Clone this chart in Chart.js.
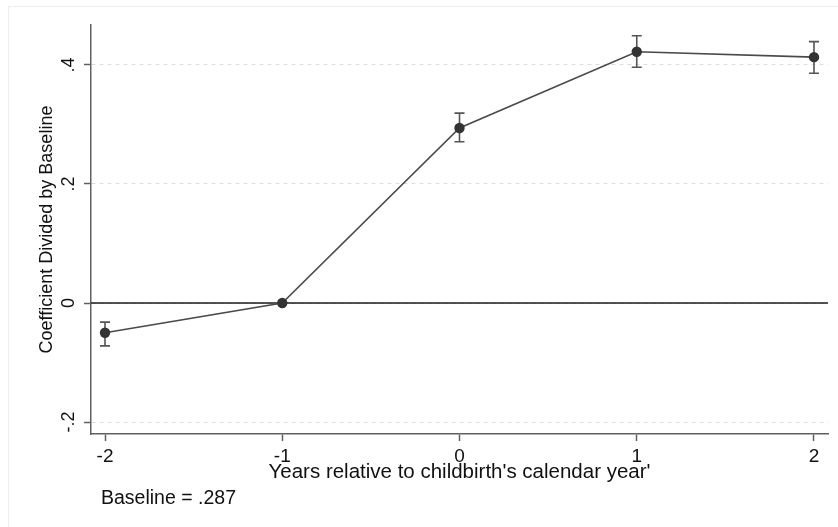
<!DOCTYPE html>
<html lang="en">
<head>
    <meta charset="UTF-8">
    <title>Coefficient Divided by Baseline</title>
    <style>
        body { margin: 0; background: #fff; }
        #wrap { width: 838px; height: 527px; }
    </style>
</head>
<body>
<div id="wrap">
    <canvas id="eventChart" width="838" height="527"></canvas>
</div>

<script src="https://cdn.jsdelivr.net/npm/chart.js"></script>
<script>
    // Event-study values
    const years = [-2, -1, 0, 1, 2];
    const coef = [-0.050, 0, 0.294, 0.422, 0.413];
    const ciLow = [-0.072, 0, 0.271, 0.396, 0.386];
    const ciHigh = [-0.032, 0, 0.319, 0.449, 0.439];
    const xTicks = [-2, -1, 0, 1, 2];
    const yTicks = [-0.2, 0, 0.2, 0.4];
    const baselineNote = 'Baseline = .287';

    const FONT = "'Liberation Sans', Arial, sans-serif";

    // Stata style labels: .4 instead of 0.4
    function stataNum(v) {
        const r = Math.round(v * 10) / 10;
        if (r === 0) return '0';
        return String(r).replace('0.', '.');
    }

    const stataExtras = {
        id: 'stataExtras',
        beforeDraw(chart) {
            const ctx = chart.ctx;
            // faint frame of the graph region
            ctx.save();
            ctx.strokeStyle = '#ededed';
            ctx.lineWidth = 1;
            ctx.strokeRect(8.5, 6.5, 840, 530);
            ctx.restore();
        },
        beforeDatasetsDraw(chart) {
            const ctx = chart.ctx;
            const x = chart.scales.x, y = chart.scales.y;
            const area = chart.chartArea;

            // zero reference line
            const y0 = y.getPixelForValue(0);
            ctx.save();
            ctx.strokeStyle = '#1a1a1a';
            ctx.lineWidth = 1.5;
            ctx.beginPath();
            ctx.moveTo(area.left, y0);
            ctx.lineTo(area.right, y0);
            ctx.stroke();

            // confidence intervals
            ctx.strokeStyle = '#555';
            ctx.lineWidth = 1.6;
            years.forEach((yr, i) => {
                if (ciLow[i] === ciHigh[i]) return;
                const px = x.getPixelForValue(yr);
                const top = y.getPixelForValue(ciHigh[i]);
                const bot = y.getPixelForValue(ciLow[i]);
                ctx.beginPath();
                ctx.moveTo(px, top); ctx.lineTo(px, bot);
                ctx.moveTo(px - 5, top); ctx.lineTo(px + 5, top);
                ctx.moveTo(px - 5, bot); ctx.lineTo(px + 5, bot);
                ctx.stroke();
            });
            ctx.restore();
        },
        afterDraw(chart) {
            const ctx = chart.ctx;
            const y = chart.scales.y;
            ctx.save();
            ctx.fillStyle = '#111';
            // rotated y tick labels
            ctx.font = '18px ' + FONT;
            ctx.textAlign = 'center';
            ctx.textBaseline = 'middle';
            yTicks.forEach(v => {
                const py = y.getPixelForValue(v);
                ctx.save();
                ctx.translate(69, py);
                ctx.rotate(-Math.PI / 2);
                ctx.fillText(stataNum(v), 0, 0);
                ctx.restore();
            });
            // note under the graph
            ctx.font = '19.5px ' + FONT;
            ctx.textAlign = 'left';
            ctx.fillText(baselineNote, 101, 499);
            ctx.restore();
        }
    };

    new Chart(document.getElementById('eventChart').getContext('2d'), {
        type: 'scatter',
        data: {
            datasets: [{
                label: 'Coefficient',
                data: years.map((yr, i) => ({ x: yr, y: coef[i] })),
                showLine: true,
                borderColor: '#4a4a4a',
                borderWidth: 1.6,
                pointRadius: 5.2,
                pointBackgroundColor: '#333',
                pointBorderColor: '#333',
                pointBorderWidth: 0
            }]
        },
        options: {
            responsive: false,
            devicePixelRatio: 1,
            animation: false,
            layout: { padding: { top: 25, right: 10, left: 0, bottom: 0 } },
            plugins: {
                legend: { display: false },
                tooltip: { enabled: false }
            },
            scales: {
                x: {
                    type: 'linear',
                    min: -2.079,
                    max: 2.079,
                    afterBuildTicks: s => { s.ticks = xTicks.map(v => ({ value: v })); },
                    afterFit: s => { s.height = 93; },
                    ticks: {
                        color: '#111',
                        font: { family: FONT, size: 19 },
                        padding: 4,
                        maxRotation: 0,
                        callback: v => String(v)
                    },
                    grid: {
                        drawOnChartArea: false,
                        drawTicks: true,
                        tickLength: 7,
                        tickColor: '#606060',
                        tickWidth: 1.5
                    },
                    border: { color: '#606060', width: 1.5 },
                    title: {
                        display: true,
                        text: "Years relative to childbirth's calendar year'",
                        color: '#111',
                        font: { family: FONT, size: 20.5 },
                        padding: { top: 0, bottom: 42 }
                    }
                },
                y: {
                    min: -0.22,
                    max: 0.467,
                    afterBuildTicks: s => { s.ticks = yTicks.map(v => ({ value: v })); },
                    afterFit: s => { s.width = 91; },
                    ticks: { display: false },
                    grid: {
                        color: '#dcdcdc',
                        lineWidth: 1,
                        drawTicks: true,
                        tickLength: 7,
                        tickColor: '#606060',
                        tickWidth: 1.5
                    },
                    border: { color: '#606060', width: 1.5, dash: [4, 4] },
                    title: {
                        display: true,
                        text: 'Coefficient Divided by Baseline',
                        color: '#111',
                        font: { family: FONT, size: 18 },
                        padding: { top: 36, bottom: 0 }
                    }
                }
            }
        },
        plugins: [stataExtras]
    });
</script>
</body>
</html>
